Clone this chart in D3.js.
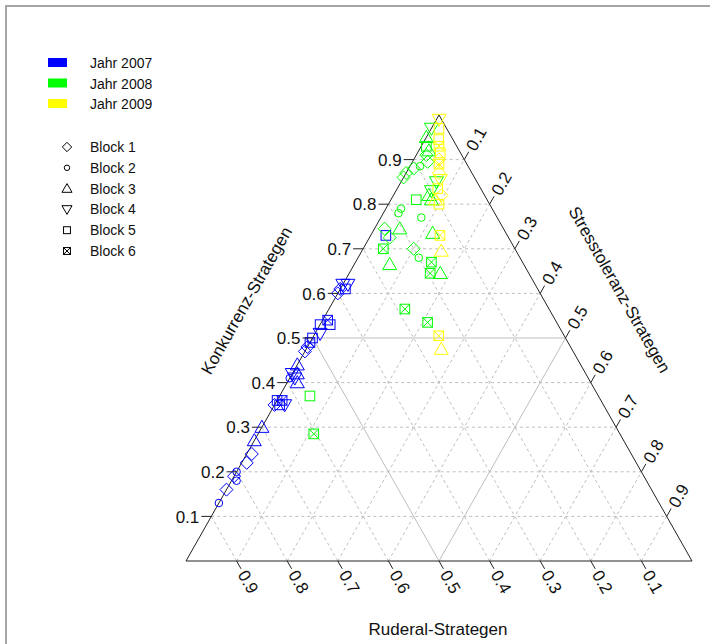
<!DOCTYPE html>
<html>
<head>
<meta charset="utf-8">
<script src="https://cdn.jsdelivr.net/npm/d3@7"></script>
<style>
  body { margin: 0; background: #fff; }
  text { font-family: "Liberation Sans", Arial, sans-serif; fill: #111; }
</style>
</head>
<body>
<div class="chart"></div>
<script>
// years / legend
var yearLabels = ["Jahr 2007", "Jahr 2008", "Jahr 2009"];
var yearColors = ["#0000ff", "#00ff00", "#ffff00"];
var blockLabels = ["Block 1", "Block 2", "Block 3", "Block 4", "Block 5", "Block 6"];
var tickValues = [0.1, 0.2, 0.3, 0.4, 0.5, 0.6, 0.7, 0.8, 0.9];

// one entry per plot: year index, block number, Konkurrenz, Stresstoleranz, Ruderal
var pointYear = [
  0,0,0,0,0,0,0,0,0,0,0,0,0,0,0,0,0,0,0,0,0,0,0,0,0,0,0,0,0,0,0,0,0,0,
  1,1,1,1,1,1,1,1,1,1,1,1,1,1,1,1,1,1,1,1,1,1,1,1,1,1,1,1,1,1,1,1,1,
  2,2,2,2,2,2,2,2,2,2,2,2,2,2,2,2,2
];
var pointBlock = [
  2,1,1,2,2,1,1,3,3,1,5,6,4,5,3,3,2,4,3,4,1,1,6,5,4,5,5,6,1,4,5,1,4,5,
  4,3,5,3,1,1,2,1,1,1,4,4,3,3,5,2,2,2,1,3,3,1,6,1,2,3,6,6,3,6,6,5,6,
  4,5,5,6,5,1,6,1,4,5,1,3,5,6,3,6,3
];
var konkurrenz = [
  0.13,0.16,0.19,0.18,0.20,0.22,0.24,0.27,0.30,0.35,0.36,0.36,0.35,0.35,0.44,0.42,0.41,0.41,0.40,0.42,0.47,0.48,0.49,0.50,0.51,0.53,0.53,0.54,0.60,0.62,0.61,0.61,0.62,0.73,
  0.97,0.95,0.93,0.92,0.91,0.895,0.885,0.88,0.87,0.86,0.85,0.83,0.82,0.81,0.81,0.79,0.78,0.77,0.745,0.745,0.735,0.725,0.70,0.70,0.68,0.665,0.67,0.645,0.645,0.565,0.535,0.37,0.285,
  0.99,0.97,0.945,0.93,0.915,0.90,0.89,0.87,0.855,0.835,0.82,0.81,0.80,0.73,0.695,0.505,0.475
];
var stresstoleranz = [
  0.00,0.00,0.00,0.01,0.00,0.01,0.01,0.00,0.00,0.00,0.00,0.01,0.02,0.01,0.00,0.01,0.00,0.01,0.02,0.00,0.00,0.00,0.00,0.00,0.01,0.00,0.02,0.01,0.00,0.01,0.01,0.00,0.00,0.03,
  0.00,0.00,0.01,0.02,0.02,0.03,0.02,0.01,0.00,0.00,0.07,0.07,0.07,0.08,0.05,0.03,0.03,0.08,0.02,0.05,0.12,0.04,0.04,0.10,0.12,0.07,0.15,0.16,0.18,0.15,0.21,0.06,0.11,
  0.005,0.015,0.027,0.035,0.045,0.05,0.055,0.065,0.075,0.08,0.095,0.088,0.10,0.137,0.157,0.247,0.267
];
var ruderal = [
  0.87,0.84,0.81,0.81,0.80,0.77,0.75,0.73,0.70,0.65,0.64,0.63,0.63,0.64,0.56,0.57,0.59,0.58,0.58,0.58,0.53,0.52,0.51,0.50,0.48,0.47,0.45,0.45,0.40,0.37,0.38,0.39,0.38,0.24,
  0.03,0.05,0.06,0.06,0.07,0.075,0.095,0.11,0.13,0.14,0.08,0.10,0.11,0.11,0.14,0.18,0.19,0.15,0.235,0.205,0.145,0.235,0.26,0.20,0.20,0.265,0.18,0.195,0.175,0.285,0.255,0.57,0.605,
  0.005,0.015,0.028,0.035,0.04,0.05,0.055,0.065,0.07,0.085,0.085,0.102,0.10,0.133,0.148,0.248,0.258
];

var width = 710, height = 644;
var svg = d3.select(".chart").append("svg")
  .attr("width", width)
  .attr("height", height);

// frame
svg.append("rect")
  .attr("x", 6).attr("y", 6)
  .attr("width", 720).attr("height", 660)
  .attr("fill", "none")
  .attr("stroke", "#a6a6a6")
  .attr("stroke-width", 2);

// ternary frame: x from stress + konkurrenz/2, y from konkurrenz
var xScale = d3.scaleLinear().domain([0, 1]).range([186, 692]);
var yScale = d3.scaleLinear().domain([0, 1]).range([561, 115]);
function pos(c, s) { return [xScale(s + c / 2), yScale(c)]; }

var grid = svg.append("g");
tickValues.forEach(function(v) {
  var half = Math.abs(v - 0.5) < 1e-9;
  var lines = [
    [pos(v, 0), pos(v, 1 - v)],       // Konkurrenz
    [pos(0, 1 - v), pos(1 - v, 0)],   // Ruderal
    [pos(0, v), pos(1 - v, v)]        // Stresstoleranz
  ];
  lines.forEach(function(l) {
    grid.append("line")
      .attr("x1", l[0][0]).attr("y1", l[0][1])
      .attr("x2", l[1][0]).attr("y2", l[1][1])
      .attr("stroke", "#bebebe")
      .attr("stroke-width", 1)
      .attr("stroke-dasharray", half ? null : "3,3");
  });
});

var corners = [pos(0, 0), pos(0, 1), pos(1, 0)];
svg.append("path")
  .attr("d", "M" + corners.join("L") + "Z")
  .attr("fill", "none")
  .attr("stroke", "#222")
  .attr("stroke-width", 1);

// marker shapes (R pch 5, 1, 2, 6, 0, 7)
function marker(g, block, k) {
  var r;
  if (block === 1) {
    r = 6.5 * k;
    g.append("path").attr("d", "M0," + -r + "L" + r + ",0L0," + r + "L" + -r + ",0Z");
  } else if (block === 2) {
    g.append("circle").attr("r", 3.8 * k);
  } else if (block === 3 || block === 4) {
    r = 7 * k;
    var sg = block === 3 ? 1 : -1;
    var h = r * 0.866;
    g.append("path").attr("d", "M0," + (-sg * h * 1.15) + "L" + r + "," + (sg * h * 0.85) + "L" + -r + "," + (sg * h * 0.85) + "Z");
  } else {
    r = 4.8 * k;
    g.append("rect").attr("x", -r).attr("y", -r).attr("width", 2 * r).attr("height", 2 * r);
    if (block === 6) {
      g.append("path").attr("d", "M" + -r + "," + -r + "L" + r + "," + r + "M" + r + "," + -r + "L" + -r + "," + r);
    }
  }
}

var pts = svg.append("g");
konkurrenz.forEach(function(c, i) {
  var p = pos(c, stresstoleranz[i]);
  var g = pts.append("g")
    .attr("transform", "translate(" + p[0] + "," + p[1] + ")")
    .attr("fill", "none")
    .attr("stroke", yearColors[pointYear[i]])
    .attr("stroke-width", 1);
  marker(g, pointBlock[i], 1);
});

// ticks and labels
var axes = svg.append("g");
function unit(a, b) {
  var dx = b[0] - a[0], dy = b[1] - a[1], len = Math.sqrt(dx * dx + dy * dy);
  return [dx / len, dy / len];
}
tickValues.forEach(function(v) {
  // left: Konkurrenz
  var p = pos(v, 0);
  axes.append("line").attr("x1", p[0]).attr("y1", p[1]).attr("x2", p[0] - 10).attr("y2", p[1]).attr("stroke", "#222");
  axes.append("text").attr("x", p[0] - 12).attr("y", p[1]).attr("dy", "0.36em")
    .attr("text-anchor", "end").style("font-size", "17px").text(v);

  // bottom: Ruderal
  var b = pos(0, 1 - v), d = unit(pos(1 - v, 0), b);
  var bx = b[0] + d[0] * 9, by = b[1] + d[1] * 9;
  axes.append("line").attr("x1", b[0]).attr("y1", b[1]).attr("x2", bx).attr("y2", by).attr("stroke", "#222");
  var ang = Math.atan2(d[1], d[0]) * 180 / Math.PI;
  axes.append("text")
    .attr("transform", "translate(" + (bx + d[0] * 3) + "," + (by + d[1] * 3) + ") rotate(" + ang + ")")
    .attr("dy", "0.36em").style("font-size", "17px").text(v);

  // right: Stresstoleranz
  var q = pos(1 - v, v), e = unit(pos(0, v), q);
  var qx = q[0] + e[0] * 9, qy = q[1] + e[1] * 9;
  axes.append("line").attr("x1", q[0]).attr("y1", q[1]).attr("x2", qx).attr("y2", qy).attr("stroke", "#222");
  var ang2 = Math.atan2(e[1], e[0]) * 180 / Math.PI;
  axes.append("text")
    .attr("transform", "translate(" + (qx + e[0] * 3) + "," + (qy + e[1] * 3) + ") rotate(" + ang2 + ")")
    .attr("dy", "0.36em").style("font-size", "17px").text(v);
});

// axis titles
var leftDir = unit(pos(0, 0), pos(1, 0));
var lm = pos(0.5, 0);
axes.append("text")
  .attr("transform", "translate(" + (lm[0] + leftDir[1] * 76) + "," + (lm[1] - leftDir[0] * 76) + ") rotate(" + (Math.atan2(leftDir[1], leftDir[0]) * 180 / Math.PI) + ")")
  .attr("text-anchor", "middle").attr("dy", "0.35em").style("font-size", "17px")
  .text("Konkurrenz-Strategen");

var rightDir = unit(pos(1, 0), pos(0, 1));
var apex = pos(1, 0);
var sideLen = Math.hypot(pos(0, 1)[0] - apex[0], pos(0, 1)[1] - apex[1]);
var rm = [apex[0] + rightDir[0] * sideLen * 0.47, apex[1] + rightDir[1] * sideLen * 0.47];
axes.append("text")
  .attr("transform", "translate(" + (rm[0] + rightDir[1] * 71) + "," + (rm[1] - rightDir[0] * 71) + ") rotate(" + (Math.atan2(rightDir[1], rightDir[0]) * 180 / Math.PI) + ")")
  .attr("text-anchor", "middle").attr("dy", "0.35em").style("font-size", "17px")
  .text("Stresstoleranz-Strategen");

axes.append("text")
  .attr("x", xScale(0.5) - 1).attr("y", 635)
  .attr("text-anchor", "middle").style("font-size", "17px")
  .text("Ruderal-Strategen");

// legend
var legend = svg.append("g");
yearLabels.forEach(function(t, i) {
  legend.append("rect").attr("x", 48).attr("y", 58 + i * 20.5).attr("width", 19).attr("height", 9).attr("fill", yearColors[i]);
  legend.append("text").attr("x", 90).attr("y", 63 + i * 20.5).attr("dy", "0.36em").style("font-size", "14px").text(t);
});
blockLabels.forEach(function(t, i) {
  var g = legend.append("g")
    .attr("transform", "translate(67," + (147 + i * 20.8) + ")")
    .attr("fill", "none").attr("stroke", "#000").attr("stroke-width", 1);
  marker(g, i + 1, 0.72);
  legend.append("text").attr("x", 90).attr("y", 147 + i * 20.8).attr("dy", "0.36em").style("font-size", "14px").text(t);
});
</script>
</body>
</html>
